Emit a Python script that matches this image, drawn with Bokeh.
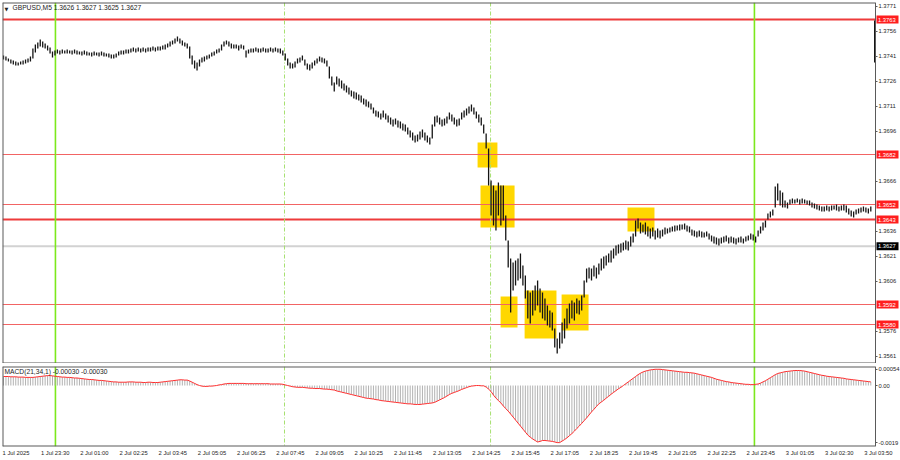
import numpy as np
from bokeh.plotting import figure
from bokeh.layouts import column
from bokeh.models import Range1d, Span, Label, FixedTicker, PrintfTickFormatter, LinearAxis
from bokeh.core.properties import value
from bokeh.embed import file_html
from bokeh.resources import INLINE

# ---------------- data (prices in points = 1e-5) ----------------
bar_high = [
    137414, 137408, 137396, 137390, 137384, 137378, 137372, 137378, 137384, 137390,
    137396, 137408, 137456, 137480, 137492, 137510, 137498, 137486, 137474, 137462,
    137438, 137444, 137450, 137444, 137450, 137444, 137450, 137444, 137444, 137450,
    137444, 137438, 137438, 137444, 137438, 137432, 137432, 137438, 137432, 137432,
    137438, 137432, 137426, 137426, 137420, 137420, 137426, 137438, 137444, 137444,
    137450, 137450, 137456, 137462, 137456, 137462, 137456, 137462, 137456, 137462,
    137462, 137468, 137462, 137468, 137468, 137474, 137480, 137486, 137498, 137504,
    137516, 137528, 137516, 137504, 137492, 137486, 137468, 137414, 137384, 137372,
    137390, 137402, 137408, 137414, 137420, 137432, 137438, 137450, 137456, 137480,
    137498, 137504, 137498, 137486, 137480, 137480, 137474, 137480, 137474, 137444,
    137450, 137456, 137456, 137462, 137456, 137456, 137462, 137456, 137456, 137462,
    137456, 137462, 137456, 137456, 137444, 137426, 137396, 137372, 137366, 137378,
    137396, 137402, 137414, 137390, 137366, 137360, 137372, 137384, 137396, 137408,
    137402, 137396, 137384, 137348, 137288, 137252, 137288, 137276, 137264, 137246,
    137234, 137222, 137204, 137198, 137192, 137180, 137174, 137156, 137150, 137138,
    137126, 137102, 137084, 137078, 137066, 137084, 137066, 137054, 137042, 137030,
    137036, 137024, 137018, 137006, 137000, 136982, 136964, 136952, 136934, 136940,
    136958, 136970, 136952, 136934, 136922, 137000, 137048, 137054, 137042, 137030,
    137036, 137048, 137072, 137060, 137042, 137030, 137036, 137072, 137084, 137096,
    137108, 137120, 137102, 137078, 137060, 137042, 137000, 136946, 136856, 136664,
    136634, 136604, 136652, 136634, 136634, 136454, 136304, 136196, 136172, 136184,
    136196, 136226, 136154, 136094, 136004, 135992, 136004, 136034, 136064, 136016,
    135992, 135956, 135914, 135884, 135872, 135776, 135716, 135752, 135812, 135836,
    135896, 135926, 135944, 135932, 135956, 135944, 135974, 136064, 136136, 136142,
    136136, 136154, 136142, 136166, 136196, 136208, 136214, 136226, 136244, 136256,
    136274, 136280, 136286, 136292, 136304, 136298, 136328, 136346, 136424, 136436,
    136412, 136400, 136412, 136388, 136376, 136382, 136364, 136376, 136364, 136370,
    136382, 136376, 136382, 136388, 136394, 136394, 136400, 136400, 136406, 136394,
    136388, 136370, 136364, 136358, 136364, 136358, 136352, 136358, 136346, 136334,
    136328, 136322, 136316, 136322, 136328, 136334, 136322, 136328, 136322, 136316,
    136322, 136328, 136316, 136328, 136334, 136346, 136340, 136328, 136364, 136388,
    136412, 136424, 136466, 136478, 136490, 136628, 136646, 136604, 136592, 136544,
    136532, 136550, 136556, 136550, 136556, 136550, 136556, 136550, 136544, 136544,
    136532, 136526, 136520, 136514, 136508, 136508, 136514, 136508, 136514, 136514,
    136520, 136508, 136514, 136520, 136514, 136496, 136484, 136478, 136490, 136496,
    136502, 136508, 136502, 136496, 136508,
]
bar_low = [
    137390, 137384, 137378, 137366, 137360, 137354, 137354, 137360, 137360, 137366,
    137372, 137378, 137396, 137432, 137456, 137468, 137462, 137456, 137444, 137426,
    137402, 137414, 137426, 137420, 137426, 137426, 137426, 137426, 137420, 137426,
    137420, 137420, 137414, 137420, 137414, 137414, 137408, 137414, 137414, 137408,
    137414, 137408, 137408, 137402, 137396, 137396, 137402, 137414, 137420, 137420,
    137426, 137426, 137432, 137438, 137432, 137438, 137432, 137438, 137432, 137438,
    137438, 137444, 137438, 137444, 137444, 137450, 137450, 137462, 137468, 137480,
    137486, 137498, 137486, 137474, 137468, 137456, 137396, 137360, 137336, 137324,
    137348, 137372, 137378, 137390, 137396, 137408, 137414, 137426, 137432, 137444,
    137468, 137480, 137468, 137456, 137456, 137456, 137444, 137456, 137450, 137402,
    137426, 137432, 137432, 137438, 137432, 137432, 137438, 137432, 137432, 137438,
    137432, 137438, 137432, 137426, 137414, 137384, 137354, 137336, 137336, 137342,
    137366, 137372, 137384, 137354, 137330, 137324, 137336, 137354, 137366, 137378,
    137372, 137366, 137348, 137276, 137234, 137198, 137240, 137228, 137216, 137204,
    137192, 137180, 137168, 137156, 137150, 137144, 137132, 137120, 137108, 137102,
    137090, 137066, 137048, 137042, 137030, 137042, 137030, 137012, 137000, 136988,
    137000, 136982, 136976, 136964, 136958, 136940, 136922, 136904, 136892, 136898,
    136910, 136922, 136904, 136892, 136880, 136916, 136988, 137012, 137000, 136988,
    136994, 137006, 137030, 137018, 137000, 136988, 136994, 137030, 137042, 137054,
    137066, 137078, 137060, 137036, 137012, 136994, 136946, 136856, 136634, 136454,
    136394, 136364, 136454, 136394, 136424, 136304, 136142, 135872, 136004, 136034,
    136064, 136076, 136034, 135956, 135836, 135806, 135854, 135884, 135914, 135872,
    135836, 135824, 135794, 135782, 135764, 135662, 135626, 135656, 135686, 135716,
    135776, 135806, 135836, 135824, 135866, 135860, 135884, 135962, 136052, 136076,
    136064, 136088, 136076, 136100, 136124, 136136, 136154, 136172, 136172, 136196,
    136214, 136226, 136232, 136244, 136250, 136244, 136268, 136292, 136328, 136376,
    136346, 136352, 136340, 136328, 136316, 136328, 136310, 136322, 136316, 136328,
    136340, 136346, 136352, 136358, 136358, 136364, 136364, 136370, 136370, 136358,
    136352, 136334, 136328, 136322, 136328, 136322, 136322, 136328, 136310, 136298,
    136286, 136280, 136274, 136286, 136292, 136298, 136286, 136292, 136286, 136280,
    136292, 136292, 136286, 136298, 136304, 136310, 136304, 136292, 136328, 136346,
    136364, 136382, 136430, 136442, 136454, 136502, 136544, 136514, 136502, 136502,
    136496, 136520, 136526, 136526, 136532, 136520, 136526, 136526, 136520, 136514,
    136502, 136496, 136490, 136484, 136478, 136478, 136484, 136478, 136484, 136490,
    136484, 136478, 136484, 136484, 136472, 136460, 136448, 136442, 136460, 136466,
    136472, 136478, 136472, 136466, 136478,
]
# MACD(21,34,1) main value, in units of 1e-5
macd_main = [
    30, 30, 30, 29, 29, 29, 28, 28, 28, 27, 27, 27, 27, 28, 29, 30,
    31, 32, 33, 33, 32, 31, 30,
    29, 28, 28, 27, 27, 26, 25, 25, 24, 23, 22,
    21, 20, 20, 19, 18, 17, 17, 16, 15, 14, 13, 12, 12, 11, 11,
    11, 11, 12, 12, 12, 11, 11, 11, 10, 10, 11, 11, 10, 10, 10, 11,
    12, 13, 14, 15, 16, 17, 18, 19, 19, 18, 18,
    15, 11, 7, 3, 0,
    -2, -3, -3, -2, -2, -1, 0,
    2, 3, 5, 6, 7, 7, 7,
    7, 7, 7, 7, 6, 6, 6, 6, 6, 6, 6, 6, 6, 6, 5, 5, 5, 5, 5, 4,
    2, 0, -2, -4, -5, -6, -6, -6, -7, -8, -9, -9, -10, -10,
    -10, -11, -12, -12, -13, -14, -15,
    -18, -20, -22, -24, -26, -28, -30, -32, -34, -36, -38, -40, -42, -43,
    -44, -45, -47, -48, -50, -51, -52, -53, -54, -55, -56, -57, -58,
    -59, -60, -61, -61, -62, -63, -63, -63,
    -62, -61, -60, -59, -58, -56,
    -52, -48, -44, -40, -35, -30,
    -26, -23, -20, -17, -13, -10, -7, -4, -2,
    -1, 0, 0, -1, -1,
    -5, -12, -20,
    -32, -42, -50, -58, -68, -77,
    -85, -95, -105, -115, -125, -135,
    -145, -155, -165, -172,
    -178, -183, -188,
    -186, -183,
    -183, -184, -185, -186, -188, -190, -190,
    -185, -180, -174, -167, -160, -152, -143, -135, -126, -117,
    -108, -98, -88, -79, -70, -61,
    -55, -49, -42, -36, -29, -23, -17, -11,
    -6, 0, 6, 12,
    18, 24, 30, 36, 41, 45, 48,
    50, 52, 53, 54, 54, 54, 53, 52,
    51, 50, 49, 48, 47, 46, 45, 44, 44, 43, 42, 41,
    39, 37, 35, 33, 31, 29, 27, 24, 21,
    19, 17, 15, 13, 12, 10, 9, 8, 7, 6,
    5, 4, 4, 3, 3, 4, 5,
    8, 12, 16, 21, 26, 31, 36, 40,
    42, 44, 46, 47, 48, 49, 50, 50, 50,
    49, 48, 46, 44, 42, 40, 38, 36, 34,
    33, 31, 30, 29, 28, 27, 26, 25, 24, 22, 21,
    20, 19, 18, 17, 16, 15, 14, 13, 12,
]
time_labels = ["1 Jul 2025", "1 Jul 23:30", "2 Jul 01:00", "2 Jul 02:25", "2 Jul 03:45",
               "2 Jul 05:05", "2 Jul 06:25", "2 Jul 07:45", "2 Jul 09:05", "2 Jul 10:25",
               "2 Jul 11:45", "2 Jul 13:05", "2 Jul 14:25", "2 Jul 15:45", "2 Jul 17:05",
               "2 Jul 18:25", "2 Jul 19:45", "2 Jul 21:05", "2 Jul 22:25", "2 Jul 23:45",
               "3 Jul 01:05", "3 Jul 02:30", "3 Jul 03:50"]
price_ticks = [1.3771, 1.3756, 1.3741, 1.3726, 1.3711, 1.3696, 1.3666,
               1.3636, 1.3621, 1.3606, 1.3576, 1.3561]
red_levels = [1.3763, 1.3682, 1.3652, 1.3643, 1.3592, 1.3580]
thick_levels = [1.3763, 1.3643]
current_price = 1.3627
macd_ticks = [0.00054, 0, -0.0019]
macd_tick_labels = ["0.00054", "0.00", "-0.0019"]
# vertical session lines (bar positions)
vline_solid = [21.2, 306.5]
vline_dash = [114.7, 198.8]
# highlighted zones: bar span and price span
box_start = [193.5, 194.7, 202.9, 212.7, 227.8, 254.7]
box_end = [201.6, 208.6, 209.8, 225.7, 238.8, 265.7]
box_top = [1.36892, 1.36634, 1.35968, 1.36004, 1.35980, 1.36502]
box_bottom = [1.36742, 1.36382, 1.35782, 1.35716, 1.35764, 1.36358]

# ---------------- build ----------------
FONT = "Liberation Sans"
FS = "5.8px"
FS_TITLE = "6.7px"
n = min(len(bar_high), len(bar_low))
idx = np.arange(n)
hi = np.array(bar_high[:n]) / 1e5
lo = np.array(bar_low[:n]) / 1e5
m = len(macd_main)
midx = np.arange(m)
mv = np.array(macd_main) / 1e5

PX = 2.45                       # pixels per bar
X_START = -1.0 / PX             # frame from x=2 to x=900
X_END = 897.0 / PX
X_AXIS = 872.0 / PX             # price scale border at x=875
xr = Range1d(X_START, X_END)
Y_TOP, Y_BOT = 1.37732, 1.35566
M_TOP, M_BOT = 0.000633, -0.00203
BORDER = "#5a5a5a"


def style_axis(ax):
    ax.major_label_text_font = FONT
    ax.major_label_text_font_size = FS
    ax.major_label_text_color = "#1e1e1e"
    ax.major_tick_out = 2
    ax.major_tick_in = 0
    ax.minor_tick_out = 0
    ax.minor_tick_in = 0
    ax.axis_line_color = BORDER
    ax.major_tick_line_color = BORDER
    ax.major_label_standoff = 1


def add_vlines(fig):
    for v in vline_solid:
        fig.add_layout(Span(location=v, dimension="height", line_color="#7CE81C",
                            line_width=1.6, level="underlay"))
    for v in vline_dash:
        fig.add_layout(Span(location=v, dimension="height", line_color="#A6E070",
                            line_width=1, line_dash="4 2 1 2", level="underlay"))


def add_frame_edges(fig, top, bottom):
    fig.add_layout(Span(location=X_START, dimension="height", line_color=BORDER,
                        line_width=2))
    fig.segment(x0=[X_START, X_START], y0=[top, bottom], x1=[X_AXIS, X_AXIS],
                y1=[top, bottom], line_color=BORDER, line_width=2)


# ---------- main price pane ----------
p = figure(frame_width=898, frame_height=361, x_range=xr,
           y_range=Range1d(Y_BOT, Y_TOP), x_axis_location=None,
           y_axis_location=None, toolbar_location=None, output_backend="svg",
           min_border_left=2, min_border_right=0, min_border_top=2,
           min_border_bottom=0, background_fill_color="white",
           border_fill_color="white", outline_line_color=None)
p.grid.visible = False
yax = LinearAxis(fixed_location=X_AXIS, ticker=FixedTicker(ticks=price_ticks),
                 formatter=PrintfTickFormatter(format="%.4f"))
style_axis(yax)
p.add_layout(yax, "right")

# yellow zones
p.quad(left=box_start, right=box_end, top=box_top, bottom=box_bottom,
       fill_color="#FFD700", line_color=None, level="underlay")

# horizontal levels (up to the price scale)
p.segment(x0=[X_START], y0=[current_price], x1=[X_AXIS], y1=[current_price],
          line_color="#D2D2D2", line_width=2, level="underlay")
for lev in red_levels:
    thick = lev in thick_levels
    p.segment(x0=[X_START], y0=[lev], x1=[X_AXIS], y1=[lev],
              line_color="#EE3B3B" if thick else "#F26464",
              line_width=2 if thick else 1, level="underlay")

add_vlines(p)
add_frame_edges(p, Y_TOP, Y_BOT)

# price bars
p.segment(x0=idx, y0=lo, x1=idx, y1=hi, line_color="#141414", line_width=1.3)

# marker on the price scale border
p.segment(x0=[X_AXIS - 0.25], y0=[1.37372], x1=[X_AXIS - 0.25], y1=[1.37624],
          line_color="#000000", line_width=1.6)

# price tags on the scale
tag_x = X_AXIS + 12.0 / PX
txt_x = X_AXIS + 2.5 / PX
p.rect(x=[tag_x] * len(red_levels), y=red_levels, width=22, height=8,
       width_units="screen", height_units="screen", fill_color="#FF1E1E",
       line_color=None)
p.text(x=[txt_x] * len(red_levels), y=red_levels,
       text=[f"{v:.4f}" for v in red_levels], text_align="left",
       text_baseline="middle", text_font=value(FONT), text_font_size=FS,
       text_color="white")
p.rect(x=[tag_x], y=[current_price], width=22, height=8, width_units="screen",
       height_units="screen", fill_color="#000000", line_color=None)
p.text(x=[txt_x], y=[current_price], text=[f"{current_price:.4f}"],
       text_align="left", text_baseline="middle", text_font=value(FONT),
       text_font_size=FS, text_color="white")

# title
p.add_layout(Label(x=X_START, y=Y_TOP, x_offset=2, y_offset=-3, text="\u25BC",
                   text_baseline="top", text_font="DejaVu Sans",
                   text_font_size="5px", text_color="#222222"))
p.add_layout(Label(x=X_START, y=Y_TOP, x_offset=10, y_offset=-1,
                   text="GBPUSD,M5 1.3626 1.3627 1.3625 1.3627",
                   text_baseline="top", text_font=FONT, text_font_size=FS_TITLE,
                   text_color="#222222"))

# ---------- separator ----------
sep = figure(frame_width=873, frame_height=3, x_range=Range1d(0, 1),
             y_range=Range1d(0, 1), x_axis_location=None, y_axis_location=None,
             toolbar_location=None, output_backend="svg", min_border_left=2,
             min_border_right=0, min_border_top=0, min_border_bottom=0,
             background_fill_color="#A4A4A4", border_fill_color="white",
             outline_line_color=None)
sep.grid.visible = False

# ---------- MACD pane ----------
p2 = figure(frame_width=898, frame_height=80, x_range=xr,
            y_range=Range1d(M_BOT, M_TOP), y_axis_location=None,
            x_axis_location="below", toolbar_location=None, output_backend="svg",
            min_border_left=2, min_border_right=0, min_border_top=0,
            min_border_bottom=14, background_fill_color="white",
            border_fill_color="white", outline_line_color=None)
p2.grid.visible = False
add_vlines(p2)
add_frame_edges(p2, M_TOP, M_BOT)
p2.segment(x0=midx, y0=np.zeros(m), x1=midx, y1=mv, line_color="#B2B2B2", line_width=1)
p2.line(midx, mv, line_color="#FF2E2E", line_width=1)

may = LinearAxis(fixed_location=X_AXIS, ticker=FixedTicker(ticks=macd_ticks))
may.major_label_overrides = {t: s for t, s in zip(macd_ticks, macd_tick_labels)}
style_axis(may)
p2.add_layout(may, "right")

time_ticks = [16 * k + 5.1 for k in range(len(time_labels))]
axx = p2.xaxis[0]
axx.ticker = FixedTicker(ticks=time_ticks)
axx.major_label_overrides = {t: s for t, s in zip(time_ticks, time_labels)}
style_axis(axx)
axx.axis_line_color = None
axx.major_tick_line_color = None

p2.add_layout(Label(x=X_START, y=M_TOP, x_offset=2, y_offset=-1,
                    text="MACD(21,34,1) -0.00030 -0.00030", text_baseline="top",
                    text_font=FONT, text_font_size=FS_TITLE, text_color="#222222"))

layout = column(p, sep, p2, spacing=0)
open("out.html", "w").write(file_html(layout, INLINE))
